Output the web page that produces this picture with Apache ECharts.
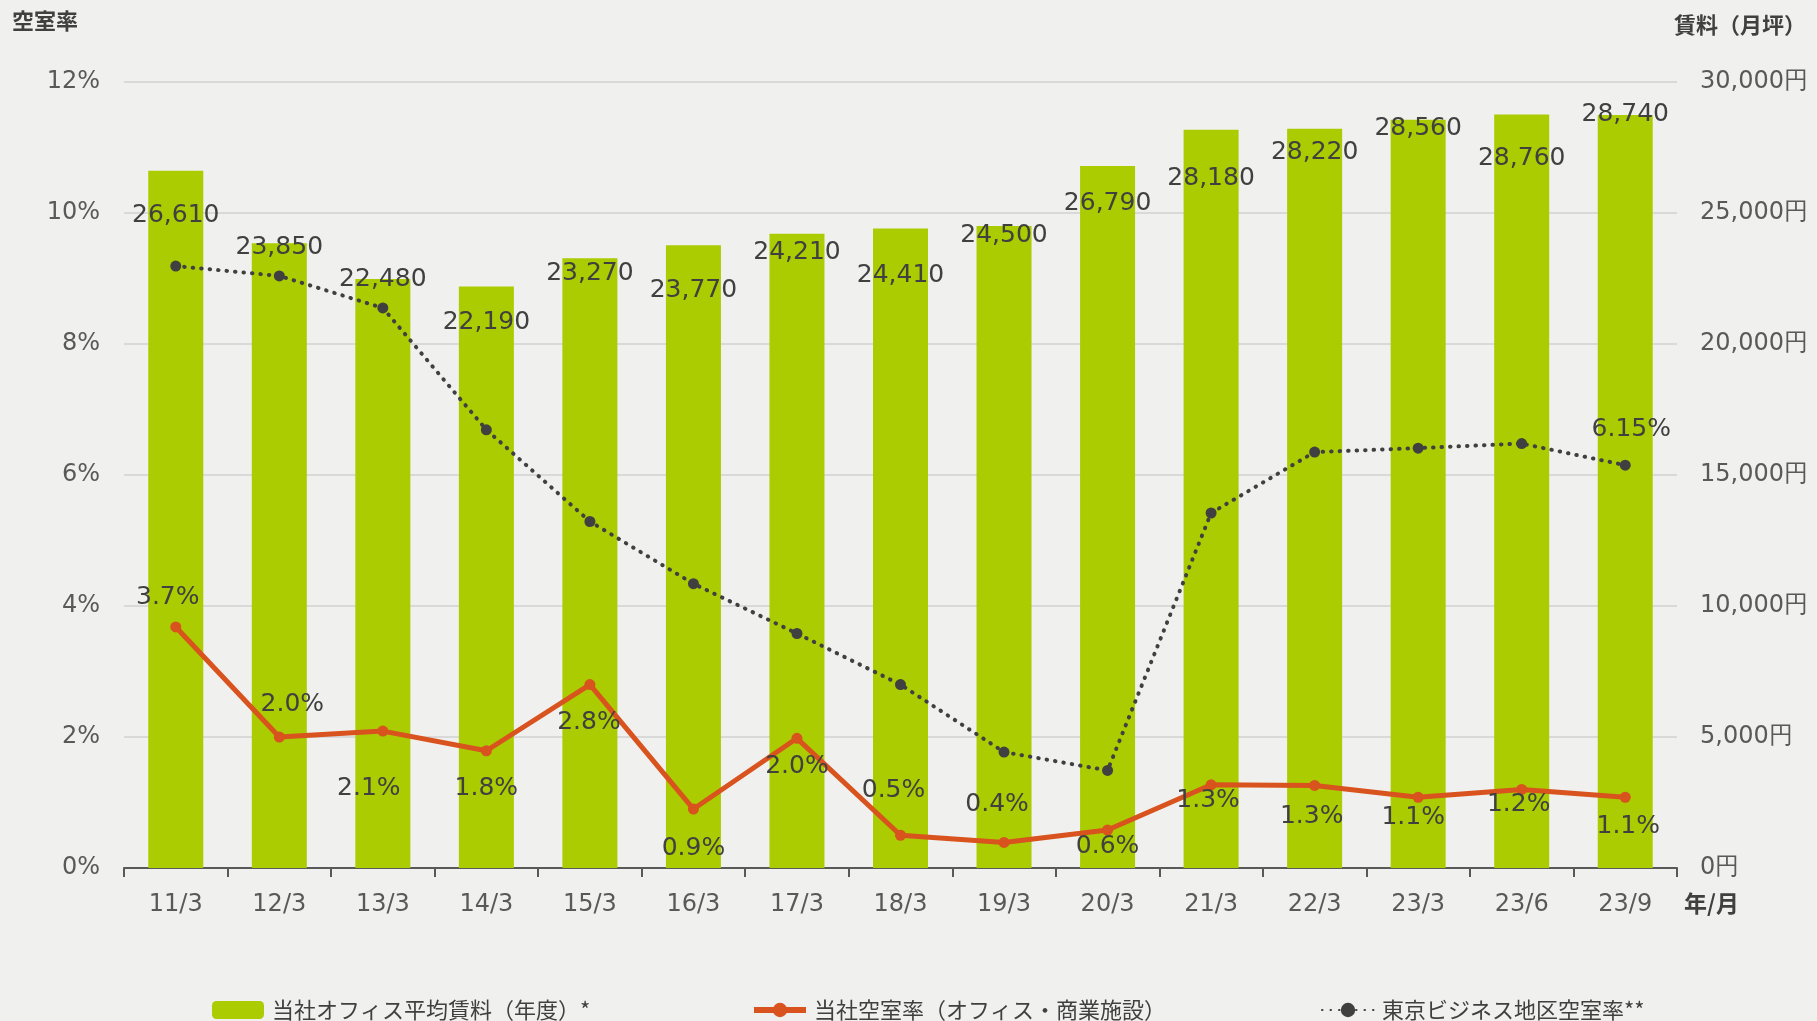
<!DOCTYPE html>
<html>
<head>
    <meta charset="utf-8">
    <title>空室率・賃料</title>
    <script src="https://cdn.jsdelivr.net/npm/echarts@6/dist/echarts.min.js"></script>
    <style>
        html, body { margin: 0; padding: 0; background: #f0f0ee; }
        #main { width: 1817px; height: 1021px; }
    </style>
</head>
<body>
<div id="main"></div>
<script type="text/javascript">
    // 年/月
    var months = ['11/3', '12/3', '13/3', '14/3', '15/3', '16/3', '17/3', '18/3', '19/3', '20/3', '21/3', '22/3', '23/3', '23/6', '23/9'];
    // 当社オフィス平均賃料（円/月坪）
    var rent = [26610, 23850, 22480, 22190, 23270, 23770, 24210, 24410, 24500, 26790, 28180, 28220, 28560, 28760, 28740];
    // 当社空室率（%）
    var ownVacancy = [3.68, 2.0, 2.09, 1.79, 2.8, 0.9, 1.98, 0.5, 0.39, 0.58, 1.27, 1.26, 1.08, 1.2, 1.08];
    // 東京ビジネス地区空室率（%）
    var tokyoVacancy = [9.19, 9.04, 8.55, 6.69, 5.29, 4.34, 3.58, 2.8, 1.77, 1.49, 5.42, 6.35, 6.41, 6.48, 6.15];
    // 軸目盛
    var leftTicks = [0, 12, 2];
    var rightTicks = [0, 30000, 5000];

    var names = ['当社オフィス平均賃料（年度）*', '当社空室率（オフィス・商業施設）', '東京ビジネス地区空室率**'];

    // ラベル位置の微調整（px）
    var rentLabelDy = [45, 4, 0, 36, 15, 45, 19, 47, 9, 37, 49, 24, 9, 44, -1];
    var ownLabelOff = [[-8, -24], [13, -27], [-14, 63], [0, 43], [-1, 43], [0, 45], [0, 34], [-7, -39],
        [-7, -32], [0, 22], [-3, 21], [-3, 37], [-5, 26], [-3, 21], [3, 35]];

    var textColor = '#404040';
    var numFont = 'DejaVu Sans';
    var jpFont = '"Noto Sans CJK JP", "DejaVu Sans"';

    function withComma(v) {
        return String(v).replace(/\B(?=(\d{3})+(?!\d))/g, ',');
    }

    var rentData = rent.map(function (v, i) {
        return {value: v, label: {offset: [0, rentLabelDy[i]]}};
    });
    var ownData = ownVacancy.map(function (v, i) {
        return {value: v, label: {offset: ownLabelOff[i]}};
    });
    var tokyoData = tokyoVacancy.map(function (v, i) {
        if (i === tokyoVacancy.length - 1) {
            return {value: v, label: {show: true, offset: [6, -30]}};
        }
        return {value: v};
    });

    var chart = echarts.init(document.getElementById('main'));
    var option = {
        backgroundColor: '#f0f0ee',
        animation: false,
        grid: {left: 124, right: 140, top: 82, bottom: 153},
        legend: [
            {data: [names[0]], left: 212, top: 999},
            {data: [{name: names[1], lineStyle: {width: 6}}], left: 751, top: 999},
            {data: [names[2]], left: 1321, top: 999}
        ].map(function (l) {
            l.itemWidth = 52;
            l.itemHeight = 18;
            l.padding = 0;
            l.textStyle = {fontFamily: jpFont, fontSize: 22, color: textColor, padding: [0, 0, 0, 3]};
            return l;
        }),
        graphic: [
            {type: 'text', left: 12, top: 10, style: {text: '空室率', font: 'bold 22px "Noto Sans CJK JP"', fill: textColor}},
            {type: 'text', left: 1674, top: 14, style: {text: '賃料（月坪）', font: 'bold 22px "Noto Sans CJK JP"', fill: textColor}},
            {type: 'text', left: 1684, top: 892, style: {text: '年/月', font: 'bold 23px "Noto Sans CJK JP"', fill: textColor}}
        ],
        xAxis: {
            type: 'category',
            data: months,
            axisLine: {lineStyle: {color: '#595959', width: 2}},
            axisTick: {show: true, length: 9, lineStyle: {color: '#595959', width: 2}},
            axisLabel: {fontFamily: numFont, fontSize: 24, color: '#595959', margin: 25}
        },
        yAxis: [
            {
                type: 'value',
                min: leftTicks[0], max: leftTicks[1], interval: leftTicks[2],
                axisLine: {show: false},
                axisTick: {show: false},
                splitLine: {lineStyle: {color: '#d9d9d9', width: 2}},
                axisLabel: {
                    formatter: '{value}%', fontFamily: numFont, fontSize: 24, color: '#595959',
                    margin: 24, padding: [5, 0, 0, 0]
                }
            },
            {
                type: 'value',
                min: rightTicks[0], max: rightTicks[1], interval: rightTicks[2],
                axisLine: {show: false},
                axisTick: {show: false},
                splitLine: {show: false},
                axisLabel: {
                    formatter: function (v) { return withComma(v) + '円'; },
                    fontFamily: numFont, fontSize: 24, color: '#595959', margin: 23, padding: [5, 0, 0, 0]
                }
            }
        ],
        series: [
            {
                name: names[0],
                type: 'bar',
                yAxisIndex: 1,
                barWidth: 55,
                itemStyle: {color: '#aacc00'},
                label: {
                    show: true,
                    position: 'top',
                    distance: 0,
                    verticalAlign: 'middle',
                    fontFamily: numFont,
                    fontSize: 25,
                    color: textColor,
                    formatter: function (p) { return withComma(p.value); }
                },
                data: rentData,
                z: 1
            },
            {
                name: names[2],
                type: 'line',
                yAxisIndex: 0,
                symbol: 'circle',
                symbolSize: 11,
                itemStyle: {color: '#404040'},
                lineStyle: {color: '#404040', width: 4, type: [0.5, 8], cap: 'round'},
                label: {
                    show: false,
                    position: 'top',
                    distance: 0,
                    verticalAlign: 'middle',
                    fontFamily: numFont,
                    fontSize: 25,
                    color: textColor,
                    formatter: function (p) { return p.value.toFixed(2) + '%'; }
                },
                data: tokyoData,
                z: 3
            },
            {
                name: names[1],
                type: 'line',
                yAxisIndex: 0,
                symbol: 'circle',
                symbolSize: 11,
                itemStyle: {color: '#d9531e'},
                lineStyle: {color: '#d9531e', width: 5},
                label: {
                    show: true,
                    position: 'top',
                    distance: 0,
                    verticalAlign: 'middle',
                    fontFamily: numFont,
                    fontSize: 25,
                    color: textColor,
                    formatter: function (p) { return p.value.toFixed(1) + '%'; }
                },
                data: ownData,
                z: 4
            }
        ]
    };
    chart.setOption(option);
</script>
</body>
</html>
